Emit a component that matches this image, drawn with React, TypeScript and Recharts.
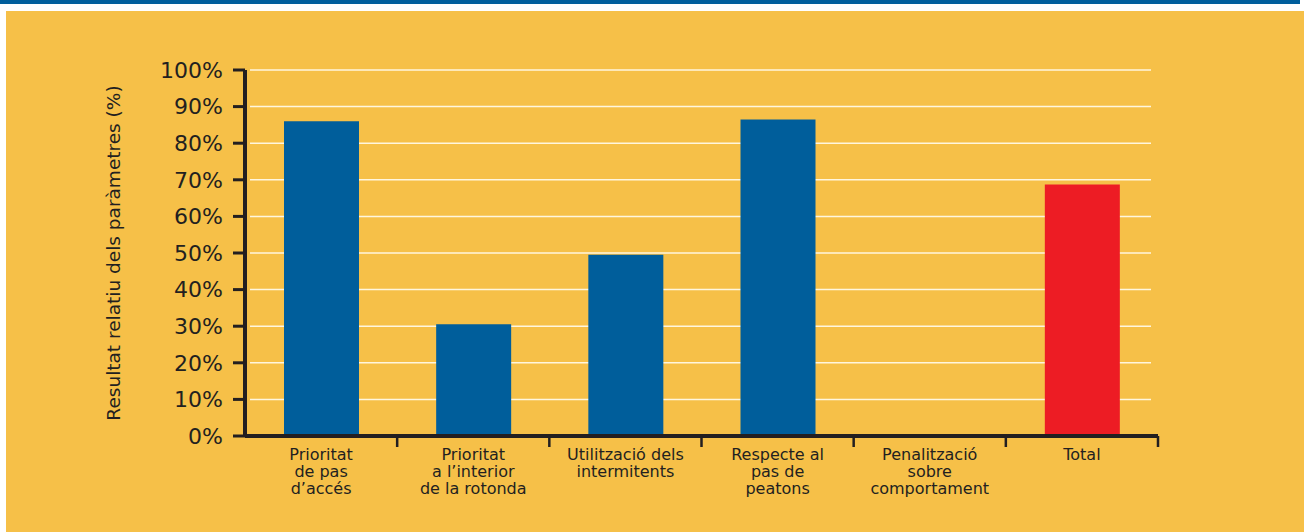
import React from 'react';
import { BarChart, Bar, Cell, XAxis, YAxis, CartesianGrid, Label } from 'recharts';

// category labels, one entry per line as printed under the axis
const categoryLines = [
  ['Prioritat', 'de pas', 'd\u2019accés'],
  ['Prioritat', 'a l\u2019interior', 'de la rotonda'],
  ['Utilització dels', 'intermitents'],
  ['Respecte al', 'pas de', 'peatons'],
  ['Penalització', 'sobre', 'comportament'],
  ['Total'],
];
const values = [86, 30.5, 49.5, 86.5, 0, 68.7];
const barColors = ['#005e9b', '#005e9b', '#005e9b', '#005e9b', '#005e9b', '#ed1c24'];
const yTicks = [0, 10, 20, 30, 40, 50, 60, 70, 80, 90, 100];
const yLabel = 'Resultat relatiu dels paràmetres (%)';

const data = categoryLines.map((lines, i) => ({ name: lines.join(' '), value: values[i] }));
const linesByName: Record<string, string[]> = {};
categoryLines.forEach((lines) => { linesByName[lines.join(' ')] = lines; });

const INK = '#231f20';
const FONT = '"DejaVu Sans", Verdana, sans-serif';

const CategoryTick = (props: any) => {
  const { x, y, payload } = props;
  const half = payload && payload.offset ? payload.offset : 76;
  const lines = linesByName[payload.value] || [payload.value];
  return (
    <g>
      <line x1={x + half} x2={x + half} y1={y} y2={y + 11} stroke={INK} strokeWidth={2.5} />
      <text x={x} y={y + 24} textAnchor="middle" fill={INK} fontSize={16} fontFamily={FONT}>
        {lines.map((l: string, i: number) => (
          <tspan key={i} x={x} dy={i === 0 ? 0 : 17}>{l}</tspan>
        ))}
      </text>
    </g>
  );
};

const AxisTitle = (props: any) => {
  const vb = props.viewBox || { x: 105, y: 70, height: 366 };
  const cx = vb.x + 15;
  const cy = vb.y + vb.height / 2;
  return (
    <text
      x={cx}
      y={cy}
      transform={`rotate(-90, ${cx}, ${cy})`}
      textAnchor="middle"
      fill={INK}
      fontSize={18.5}
      fontFamily={FONT}
    >
      {yLabel}
    </text>
  );
};

const App: React.FC = () => {
  return (
    <div style={{ position: 'absolute', left: 0, top: 0, width: 1304, height: 532, background: '#ffffff', overflow: 'hidden' }}>
      <div style={{ position: 'absolute', left: 0, top: 0, width: 1300, height: 4, background: '#005e9c' }} />
      <div style={{ position: 'absolute', left: 6, top: 11, right: 0, bottom: 0, background: '#f6c048' }} />
      <div style={{ position: 'absolute', left: 0, top: 0 }}>
        <BarChart width={1304} height={532} data={data} margin={{ top: 70, right: 146, bottom: 36, left: 105 }}>
          <CartesianGrid vertical={false} stroke="#fff6de" strokeWidth={1.5} x={250} width={901} />
          <XAxis
            dataKey="name"
            height={60}
            interval={0}
            axisLine={{ stroke: INK, strokeWidth: 4 }}
            tickLine={false}
            tickSize={0}
            tickMargin={0}
            tick={<CategoryTick />}
          />
          <YAxis
            type="number"
            domain={[0, 100]}
            ticks={yTicks}
            interval={0}
            width={140}
            tickFormatter={(v: number) => `${v}%`}
            axisLine={{ stroke: INK, strokeWidth: 4 }}
            tickLine={{ stroke: INK, strokeWidth: 3 }}
            tickSize={12}
            tickMargin={10}
            tick={{ fill: INK, fontSize: 22, fontFamily: FONT }}
          >
            <Label content={<AxisTitle />} />
          </YAxis>
          <Bar dataKey="value" barSize={75} isAnimationActive={false}>
            {data.map((d, i) => (
              <Cell key={d.name} fill={barColors[i]} />
            ))}
          </Bar>
        </BarChart>
      </div>
    </div>
  );
};

export default App;
